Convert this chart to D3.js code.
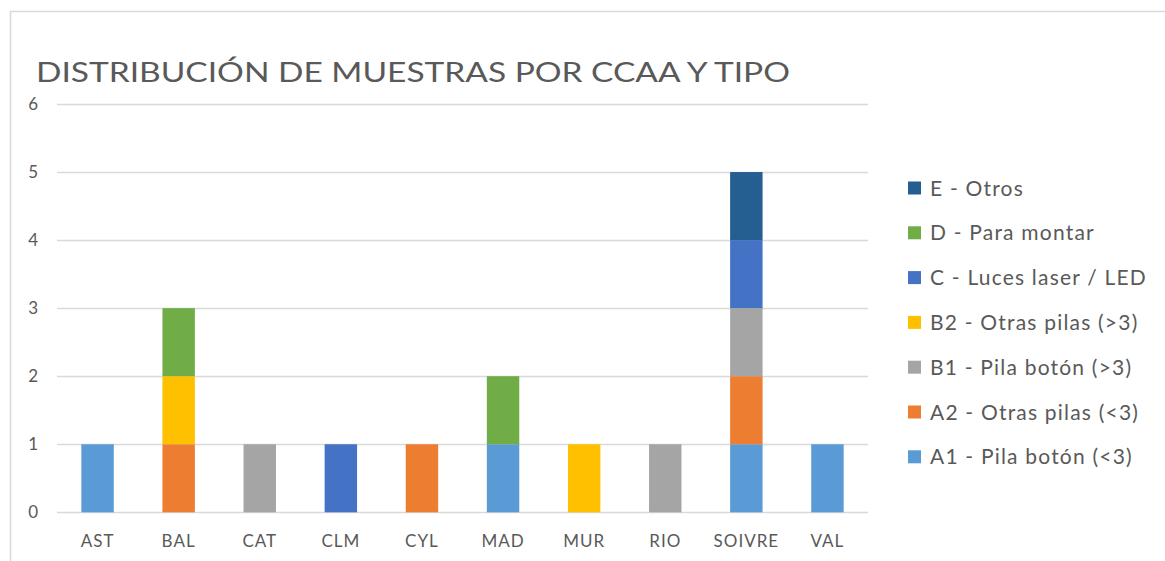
<!DOCTYPE html>
<html>
<head>
<meta charset="utf-8">
<script src="https://cdn.jsdelivr.net/npm/d3@7"></script>
<style>
  body { margin: 0; background: #fff; }
  text { font-family: Lato, "Open Sans", sans-serif; fill: #595959; }
</style>
</head>
<body>
<script>
// data
var categories = ["AST", "BAL", "CAT", "CLM", "CYL", "MAD", "MUR", "RIO", "SOIVRE", "VAL"];
var seriesNames = ["A1 - Pila botón (<3)", "A2 - Otras pilas (<3)", "B1 - Pila botón (>3)",
  "B2 - Otras pilas (>3)", "C - Luces laser / LED", "D - Para montar", "E - Otros"];
var seriesColors = ["#5B9BD5", "#ED7D31", "#A5A5A5", "#FFC000", "#4472C4", "#70AD47", "#255E91"];
var A1 = [1, 0, 0, 0, 0, 1, 0, 0, 1, 1];
var A2 = [0, 1, 0, 0, 1, 0, 0, 0, 1, 0];
var B1 = [0, 0, 1, 0, 0, 0, 0, 1, 1, 0];
var B2 = [0, 1, 0, 0, 0, 0, 1, 0, 0, 0];
var C  = [0, 0, 0, 1, 0, 0, 0, 0, 1, 0];
var D  = [0, 1, 0, 0, 0, 1, 0, 0, 0, 0];
var E  = [0, 0, 0, 0, 0, 0, 0, 0, 1, 0];
var yTicks = [0, 1, 2, 3, 4, 5, 6];
var title = "DISTRIBUCIÓN DE MUESTRAS POR CCAA Y TIPO";

var seriesValues = [A1, A2, B1, B2, C, D, E];
var keys = seriesNames;
var table = categories.map(function (c, i) {
  var row = { cat: c };
  keys.forEach(function (k, j) { row[k] = seriesValues[j][i]; });
  return row;
});

var width = 1165, height = 561;
var plot = { left: 57, right: 868, top: 104, bottom: 512.3 };

var svg = d3.select("body").append("svg")
  .attr("width", width).attr("height", height);

// chart frame (only top/left visible in the shot)
svg.append("rect")
  .attr("x", 10.5).attr("y", 11.5)
  .attr("width", 1300).attr("height", 700)
  .attr("fill", "#fff")
  .attr("stroke", "#D9D9D9").attr("stroke-width", 1.5);

svg.append("text")
  .attr("x", 36).attr("y", 82)
  .style("font-size", "27px")
  .attr("textLength", 754)
  .attr("lengthAdjust", "spacingAndGlyphs")
  .text(title);

var x = d3.scaleBand().domain(categories)
  .range([plot.left, plot.right]).paddingInner(0.6).paddingOuter(0.3);
var y = d3.scaleLinear().domain([0, 6]).range([plot.bottom, plot.top]);

// gridlines
svg.append("g").selectAll("line").data(yTicks).join("line")
  .attr("x1", plot.left).attr("x2", plot.right)
  .attr("y1", function (d) { return Math.round(y(d)) + 0.5; })
  .attr("y2", function (d) { return Math.round(y(d)) + 0.5; })
  .attr("stroke", "#D9D9D9").attr("stroke-width", 1.3);

// y labels
svg.append("g").selectAll("text").data(yTicks).join("text")
  .attr("x", 38).attr("y", function (d) { return y(d); })
  .attr("dy", "0.35em")
  .attr("text-anchor", "end")
  .style("font-size", "17px")
  .text(function (d) { return d; });

// stacked bars
var stack = d3.stack().keys(keys)(table);
svg.append("g").selectAll("g").data(stack).join("g")
  .attr("fill", function (d, i) { return seriesColors[i]; })
  .selectAll("rect").data(function (d) { return d.filter(function (p) { return p[1] > p[0]; }); })
  .join("rect")
  .attr("x", function (d) { return x(d.data.cat); })
  .attr("width", x.bandwidth())
  .attr("y", function (d) { return y(d[1]); })
  .attr("height", function (d) { return y(d[0]) - y(d[1]); });

// category labels
svg.append("g").selectAll("text").data(categories).join("text")
  .attr("x", function (d) { return x(d) + x.bandwidth() / 2; })
  .attr("y", 547)
  .attr("text-anchor", "middle")
  .style("font-size", "17px")
  .style("letter-spacing", "1px")
  .text(function (d) { return d; });

// legend, top entry is the last series
var legend = svg.append("g").selectAll("g")
  .data(keys.map(function (k, i) { return { name: k, color: seriesColors[i] }; }).reverse())
  .join("g")
  .attr("transform", function (d, i) { return "translate(908," + (188 + i * 44.8) + ")"; });
legend.append("rect")
  .attr("x", 0).attr("y", -6.5).attr("width", 13).attr("height", 13)
  .attr("fill", function (d) { return d.color; });
legend.append("text")
  .attr("x", 22).attr("dy", "0.36em")
  .style("font-size", "21px")
  .style("letter-spacing", "1.2px")
  .text(function (d) { return d.name; });
</script>
</body>
</html>
